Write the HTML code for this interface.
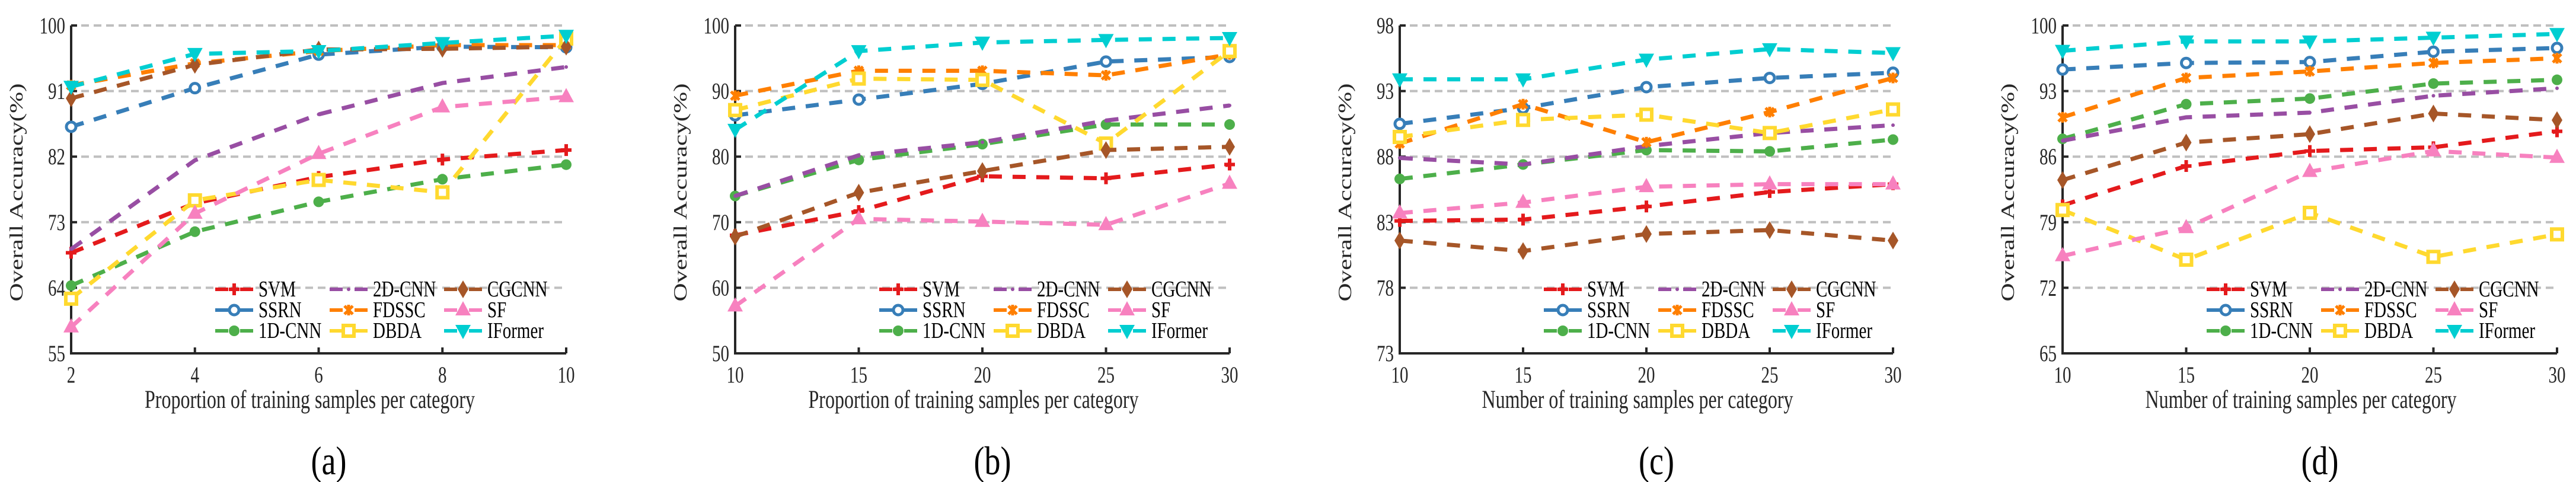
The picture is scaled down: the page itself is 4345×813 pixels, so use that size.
<!DOCTYPE html>
<html><head><meta charset="utf-8">
<style>
html,body{margin:0;padding:0;background:#fff;}
svg{display:block;font-family:"Liberation Serif","DejaVu Serif",serif;}
</style></head>
<body>
<svg id="fig" width="4345" height="813" viewBox="0 0 4345 813" xmlns="http://www.w3.org/2000/svg"></svg>
<script>
// ---- data ----
const seriesNames = ["SVM","SSRN","1D-CNN","2D-CNN","FDSSC","DBDA","CGCNN","SF","IFormer"];
const seriesColors = ["#e41a1c","#377eb8","#4daf4a","#984ea3","#ff7f00","#ffd92f","#a65628","#f781bf","#00ced1"];
const seriesMarkers = ["plus","ocircle","circle","dot","x","square","diamond","tri","tridown"];

const xA = [2,4,6,8,10];
const yTicksA = [55,64,73,82,91,100];
const svmA = [68.8,75.6,79.2,81.6,82.9];
const ssrnA = [86.1,91.4,96.0,97.1,97.0];
const cnn1A = [64.3,71.7,75.8,78.9,80.9];
const cnn2A = [69.3,81.5,87.8,92.1,94.3];
const fdsscA = [91.8,94.8,96.5,97.3,97.3];
const dbdaA = [62.5,76.0,78.8,77.1,98.2];
const cgcnnA = [90.0,94.6,96.7,96.8,97.1];
const sfA = [58.6,74.2,82.4,88.8,90.2];
const iformerA = [91.6,96.1,96.5,97.6,98.6];

const xB = [10,15,20,25,30];
const yTicksB = [50,60,70,80,90,100];
const svmB = [68.0,71.7,77.0,76.7,78.8];
const ssrnB = [86.3,88.7,91.1,94.5,95.2];
const cnn1B = [74.0,79.5,81.9,84.9,84.9];
const cnn2B = [74.0,80.2,82.2,85.5,87.8];
const fdsscB = [89.3,93.1,93.1,92.4,95.6];
const dbdaB = [87.1,91.9,91.7,82.0,96.1];
const cgcnnB = [67.8,74.5,77.8,81.0,81.5];
const sfB = [57.2,70.5,70.1,69.6,75.9];
const iformerB = [84.1,96.1,97.4,97.8,98.1];

const xC = [10,15,20,25,30];
const yTicksC = [73,78,83,88,93,98];
const svmC = [83.1,83.2,84.2,85.3,85.9];
const ssrnC = [90.5,91.7,93.3,94.0,94.4];
const cnn1C = [86.3,87.4,88.5,88.4,89.3];
const cnn2C = [87.9,87.4,88.8,89.8,90.4];
const fdsscC = [89.0,92.0,89.1,91.4,94.0];
const dbdaC = [89.5,90.8,91.2,89.8,91.6];
const cgcnnC = [81.6,80.8,82.1,82.4,81.6];
const sfC = [83.7,84.5,85.7,85.9,85.9];
const iformerC = [93.9,93.9,95.4,96.2,95.9];

const xD = [10,15,20,25,30];
const yTicksD = [65,72,79,86,93,100];
const svmD = [80.8,85.0,86.6,87.0,88.7];
const ssrnD = [95.3,96.0,96.1,97.2,97.6];
const cnn1D = [87.9,91.6,92.2,93.8,94.2];
const cnn2D = [87.7,90.2,90.7,92.5,93.3];
const fdsscD = [90.2,94.4,95.1,96.0,96.5];
const dbdaD = [80.3,75.0,80.0,75.3,77.7];
const cgcnnD = [83.5,87.5,88.4,90.6,89.9];
const sfD = [75.4,78.4,84.4,86.6,85.9];
const iformerD = [97.3,98.3,98.3,98.7,99.1];

const panelLetters = ["(a)","(b)","(c)","(d)"];
const xTitles = ["Proportion of training samples per category","Proportion of training samples per category","Number of training samples per category","Number of training samples per category"];

const panels = [
 {L:120,R:955,x:xA,yt:yTicksA,s:[svmA,ssrnA,cnn1A,cnn2A,fdsscA,dbdaA,cgcnnA,sfA,iformerA]},
 {L:1240,R:2074,x:xB,yt:yTicksB,s:[svmB,ssrnB,cnn1B,cnn2B,fdsscB,dbdaB,cgcnnB,sfB,iformerB]},
 {L:2361,R:3193,x:xC,yt:yTicksC,s:[svmC,ssrnC,cnn1C,cnn2C,fdsscC,dbdaC,cgcnnC,sfC,iformerC]},
 {L:3479,R:4313,x:xD,yt:yTicksD,s:[svmD,ssrnD,cnn1D,cnn2D,fdsscD,dbdaD,cgcnnD,sfD,iformerD]}
];

const NS="http://www.w3.org/2000/svg";
const fig=document.getElementById('fig');
const TOP=43, BOT=596, VS=1.35;
function mk(tag,attrs,parent){const e=document.createElementNS(NS,tag);for(const k in attrs)e.setAttribute(k,attrs[k]);parent.appendChild(e);return e;}
function stxt(parent,x,y,str,size,anchor,fill,sy){
  const t=mk('text',{x:0,y:0,'text-anchor':anchor,'font-size':size,fill:fill,transform:`translate(${x} ${y}) scale(1 ${sy||VS})`},parent);
  t.textContent=str;return t;
}

function marker(g,type,cx,cy,col){
  let m;
  if(type==="plus"){m=mk('path',{d:`M${cx-9},${cy}H${cx+9}M${cx},${cy-10}V${cy+10}`,stroke:col,'stroke-width':6,fill:'none'},g);}
  else if(type==="ocircle"){m=mk('circle',{cx:cx,cy:cy,r:8,fill:'#fff',stroke:col,'stroke-width':5},g);}
  else if(type==="circle"){m=mk('circle',{cx:cx,cy:cy,r:9,fill:col},g);}
  else if(type==="dot"){m=mk('circle',{cx:cx,cy:cy,r:3,fill:col},g);}
  else if(type==="x"){m=mk('path',{d:`M${cx-7},${cy-7}L${cx+7},${cy+7}M${cx+7},${cy-7}L${cx-7},${cy+7}M${cx},${cy-9}V${cy+9}`,stroke:col,'stroke-width':5,fill:'none'},g);}
  else if(type==="square"){m=mk('rect',{x:cx-9,y:cy-9,width:18,height:18,fill:'#fff',stroke:col,'stroke-width':6},g);}
  else if(type==="diamond"){m=mk('path',{d:`M${cx},${cy-15}L${cx+9},${cy}L${cx},${cy+15}L${cx-9},${cy}Z`,fill:col},g);}
  else if(type==="tri"){m=mk('path',{d:`M${cx},${cy-15}L${cx+13},${cy+9}L${cx-13},${cy+9}Z`,fill:col},g);}
  else if(type==="tridown"){m=mk('path',{d:`M${cx-13},${cy-10}L${cx+13},${cy-10}L${cx},${cy+14}Z`,fill:col},g);}
  
  
}

panels.forEach((p,pi)=>{
  const g=mk('g',{},fig);
  
  
  const ymin=p.yt[0], ymax=p.yt[p.yt.length-1];
  const xmin=p.x[0], xmax=p.x[p.x.length-1];
  const sx=v=>p.L+(v-xmin)/(xmax-xmin)*(p.R-p.L);
  const sy=v=>BOT-(v-ymin)/(ymax-ymin)*(BOT-TOP);
  p.yt.forEach((t,i)=>{
    if(i>0){const gl=mk('line',{x1:p.L+17,x2:p.R,y1:sy(t),y2:sy(t),stroke:'#bfbfbf','stroke-width':4,'stroke-dasharray':'13 8'},g);
      
      }
    const tk=mk('line',{x1:p.L,x2:p.L+10,y1:sy(t),y2:sy(t),stroke:'#262626','stroke-width':4},g);
    
    
    const tl=stxt(g,p.L-10,sy(t)+13,t,29,'end','#262626');
    
    
  });
  p.x.forEach(t=>{
    const tk=mk('line',{x1:sx(t),x2:sx(t),y1:BOT,y2:BOT-10,stroke:'#262626','stroke-width':4},g);
    
    
    const tl=stxt(g,sx(t),645,t,29,'middle','#262626');
    
    
  });
  const ax=mk('path',{d:`M${p.L},${TOP}V${BOT}H${p.R}`,stroke:'#262626','stroke-width':4,fill:'none'},g);
  
  
  const xt=stxt(g,(p.L+p.R)/2-15,688,xTitles[pi],32,'middle','#262626');
  
  
  const yx=p.L-82, yc=(TOP+BOT)/2+5;
  const yt=mk('text',{x:0,y:0,'text-anchor':'middle','font-size':32,fill:'#262626',transform:`translate(${yx} ${yc}) rotate(-90) scale(${VS} 1)`},g);
  yt.textContent="Overall Accuracy(%)";
  
  
  const pl=stxt(g,(p.L+p.R)/2+17,800,panelLetters[pi],54,'middle','#000',1.25);
  
  
  p.s.forEach((vals,si)=>{
    const sg=mk('g',{},g);
    
    
    const pts=vals.map((v,i)=>sx(p.x[i])+','+sy(v)).join(' ');
    const ln=mk('polyline',{points:pts,fill:'none',stroke:seriesColors[si],'stroke-width':7,'stroke-dasharray':'22 18'},sg);
    
    
    vals.forEach((v,i)=>marker(sg,seriesMarkers[si],sx(p.x[i]),sy(v),seriesColors[si]));
  });
  const lg=mk('g',{},g);
  
  
  const order=[0,3,6,1,4,7,2,5,8];
  order.forEach((si,k)=>{
    const col=k%3,row=Math.floor(k/3);
    const lx=p.L+243+col*193, ly=488+row*35;
    const e=mk('g',{},lg);
    
    
    mk('line',{x1:lx,x2:lx+22,y1:ly,y2:ly,stroke:seriesColors[si],'stroke-width':6},e);
    mk('line',{x1:lx+42,x2:lx+64,y1:ly,y2:ly,stroke:seriesColors[si],'stroke-width':6},e);
    marker(e,seriesMarkers[si],lx+32,ly,seriesColors[si]);
    stxt(e,lx+73,ly+12,seriesNames[si],29,'start','#000',1.3);
  });
});
</script>
</body></html>
